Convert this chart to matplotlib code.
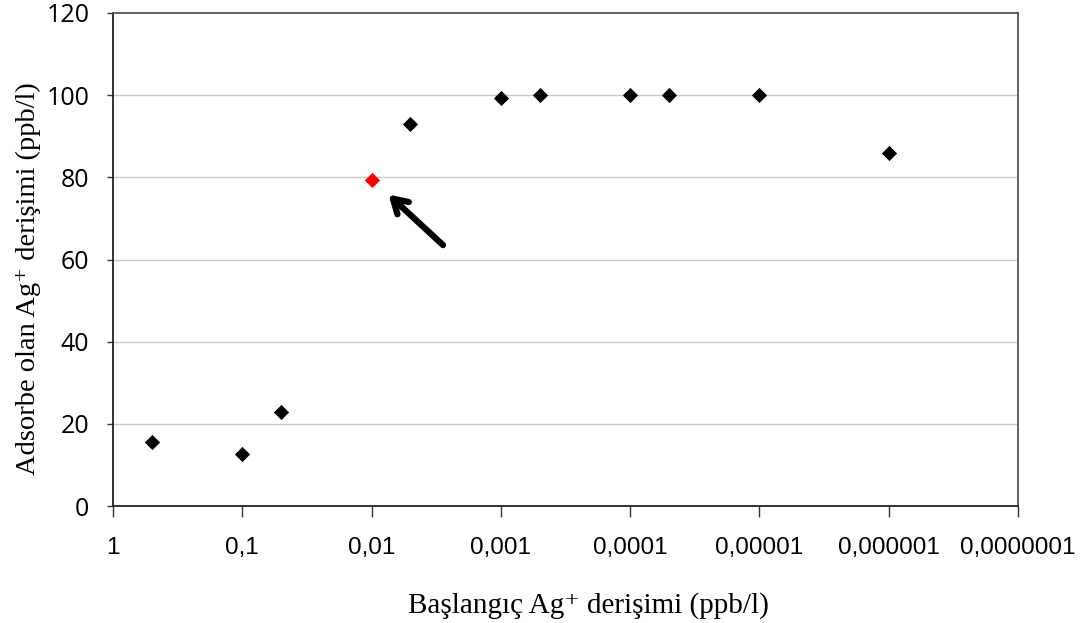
import matplotlib
matplotlib.use('Agg')
import matplotlib.pyplot as plt

# Initial Ag+ concentration (ppb/l) vs adsorbed amount (ppb/l)
conc = [0.5, 0.1, 0.05, 0.005, 0.001, 0.0005, 0.0001, 0.00005, 0.00001, 0.000001]
adsorbed = [15.5, 12.6, 23.0, 93.0, 99.2, 100.0, 100.0, 100.0, 100.0, 86.0]
# highlighted point
hl_conc = [0.01]
hl_ads = [79.3]

xticks = [1, 0.1, 0.01, 0.001, 0.0001, 0.00001, 0.000001, 0.0000001]
xticklabels = ['1', '0,1', '0,01', '0,001', '0,0001', '0,00001', '0,000001', '0,0000001']
yticks = [0, 20, 40, 60, 80, 100, 120]

serif = ['Liberation Serif', 'DejaVu Serif']

fig = plt.figure(figsize=(10.8, 6.23), dpi=100)
ax = fig.add_axes([113 / 1080, 1 - 506 / 623, (1018 - 113) / 1080, (506 - 13) / 623])

ax.set_xscale('log')
ax.set_xlim(1, 1e-7)
ax.set_ylim(0, 120)

ax.scatter(conc, adsorbed, marker='D', s=60, color='black', zorder=3, linewidths=0)
ax.scatter(hl_conc, hl_ads, marker='D', s=60, color='red', zorder=3, linewidths=0)

ax.annotate('', xy=(0.0074, 75.8), xytext=(0.0028, 63.5),
            arrowprops=dict(arrowstyle='->, head_length=1.0, head_width=0.6',
                            lw=4.5, color='black', shrinkA=0, shrinkB=0))

for y in yticks[1:-1]:
    ax.axhline(y, color='#c8c8c8', lw=1, zorder=1)

ax.set_xticks(xticks)
ax.set_xticklabels(xticklabels, fontfamily='Liberation Sans', fontsize=17.5)
ax.minorticks_off()
ax.set_yticks(yticks)
ax.set_yticklabels([str(v) for v in yticks], fontfamily='Open Sans', fontsize=18)
ax.tick_params(axis='x', direction='out', length=8, width=1, pad=14, color='#333333')
ax.tick_params(axis='y', direction='out', length=4, width=1, pad=13, color='#333333')

for s in ax.spines.values():
    s.set_color('#555555')
    s.set_linewidth(1.3)
ax.spines['left'].set_color('#222222')
ax.spines['bottom'].set_color('#222222')

ax.set_xlabel('Başlangıç Ag\u207a derişimi (ppb/l)', fontfamily=serif, fontsize=21)
ax.set_ylabel('Adsorbe olan Ag\u207a derişimi (ppb/l)', fontfamily=serif, fontsize=20.5)
ax.xaxis.set_label_coords(0.525, -0.175)
ax.yaxis.set_label_coords(-0.08, 0.462)

fig.savefig('out.png', dpi=100)
